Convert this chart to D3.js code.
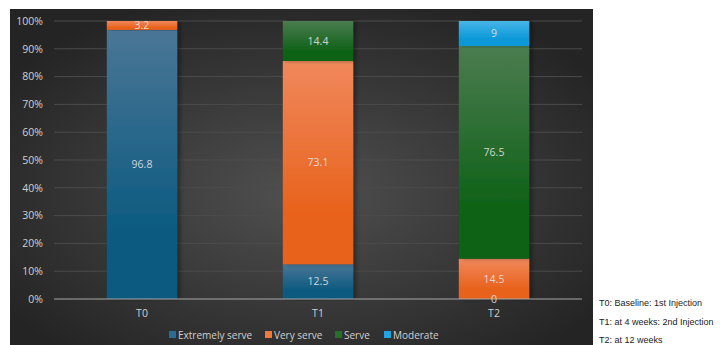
<!DOCTYPE html>
<html><head><meta charset="utf-8">
<script src="https://cdn.jsdelivr.net/npm/d3@7"></script>
<style>body{margin:0;background:#fff;}svg{display:block;}</style>
</head><body>
<svg id="c" width="722" height="345"></svg>
<script>
const categories = ["T0", "T1", "T2"];
const seriesNames = ["Extremely serve", "Very serve", "Serve", "Moderate"];
const extremelyServe = [96.8, 12.5, 0];
const veryServe = [3.2, 73.1, 14.5];
const serve = [0, 14.4, 76.5];
const moderate = [0, 0, 9];
const yTicks = [0, 10, 20, 30, 40, 50, 60, 70, 80, 90, 100];
const notes = ["T0: Baseline: 1st Injection", "T1: at 4 weeks: 2nd Injection", "T2: at 12 weeks"];
const zeroLabelShown = [["Extremely serve", "T2"]];

const seriesValues = [extremelyServe, veryServe, serve, moderate];
const colors = [
  {light:"#4a7696", dark:"#0c5a80", legend:"#2a6c94"},
  {light:"#f0885c", dark:"#e8621c", legend:"#f07a3c"},
  {light:"#4c7c50", dark:"#0f6218", legend:"#247028"},
  {light:"#48b4e8", dark:"#0898d8", legend:"#20a4e4"}
];

const svg = d3.select("#c");
const defs = svg.append("defs");
const bg = defs.append("radialGradient").attr("id","bg").attr("cx","0.5").attr("cy","0.55").attr("r","0.62");
bg.append("stop").attr("offset","0").attr("stop-color","#505050");
bg.append("stop").attr("offset","1").attr("stop-color","#242424");
colors.forEach((c,i)=>{
  const g = defs.append("linearGradient").attr("id","g"+i).attr("x1",0).attr("y1",0).attr("x2",0).attr("y2",1);
  g.append("stop").attr("offset","0").attr("stop-color",c.light);
  g.append("stop").attr("offset","0.75").attr("stop-color",c.dark);
  g.append("stop").attr("offset","1").attr("stop-color",c.dark);
});
const sh = defs.append("filter").attr("id","sh").attr("x","-20%").attr("y","-5%").attr("width","140%").attr("height","110%");
sh.append("feDropShadow").attr("dx",3).attr("dy",0).attr("stdDeviation",2).attr("flood-color","#000").attr("flood-opacity",0.35);

svg.append("rect").attr("x",10).attr("y",9).attr("width",583).attr("height",336).attr("fill","url(#bg)");

const x = d3.scaleBand().domain(categories).range([54, 582]).paddingInner(0.6).paddingOuter(0.3);
const y = d3.scaleLinear().domain([0, 100]).range([299, 21]);

const font = "'Open Sans', 'DejaVu Sans', sans-serif";

// gridlines
svg.append("g").selectAll("line").data(yTicks.filter(t=>t>0)).join("line")
  .attr("x1",54).attr("x2",582).attr("y1",d=>y(d)).attr("y2",d=>y(d))
  .attr("stroke","#4c4c4c").attr("stroke-width",1);

// y axis labels
const yAxis = svg.append("g").attr("transform","translate(54,0)")
  .call(d3.axisLeft(y).tickValues(yTicks).tickFormat(d=>d+"%").tickSize(0).tickPadding(11));
yAxis.select(".domain").remove();
yAxis.selectAll("text").attr("fill","#d0d0d0").style("font-family",font).style("font-size","10.5px");

// stacked data
const table = categories.map((c,i)=>{
  const o = {cat:c};
  seriesNames.forEach((s,j)=>o[s]=seriesValues[j][i]);
  return o;
});
const stacked = d3.stack().keys(seriesNames)(table);

const barG = svg.append("g");
stacked.forEach((layer,j)=>{
  barG.append("g").selectAll("rect").data(layer).join("rect")
    .attr("x",d=>x(d.data.cat)).attr("width",x.bandwidth())
    .attr("y",d=>y(d[1])).attr("height",d=>y(d[0])-y(d[1]))
    .attr("fill","url(#g"+j+")")
    .attr("filter","url(#sh)");
});

// axis line
svg.append("line").attr("x1",54).attr("x2",582).attr("y1",y(0)).attr("y2",y(0)).attr("stroke","#a8a8a8").attr("stroke-width",1);

// labels
const lblG = svg.append("g");
stacked.forEach((layer,j)=>{
  layer.forEach(d=>{
    const v = d[1]-d[0];
    const show = v>0 || zeroLabelShown.some(z=>z[0]===seriesNames[j] && z[1]===d.data.cat);
    if(!show) return;
    lblG.append("text").attr("x",x(d.data.cat)+x.bandwidth()/2)
      .attr("y",(y(d[0])+y(d[1]))/2).attr("dy","0.35em")
      .attr("text-anchor","middle").attr("fill","#e4e4e4").attr("fill-opacity",0.9)
      .style("font-family",font).style("font-size","10.5px").text(String(v===0?0:+v.toFixed(1)));
  });
});

// x axis labels
svg.append("g").selectAll("text").data(categories).join("text")
  .attr("x",d=>x(d)+x.bandwidth()/2).attr("y",317).attr("text-anchor","middle")
  .attr("fill","#d0d0d0").style("font-family",font).style("font-size","10.5px").text(d=>d);

// legend
const legendX = [169, 265, 335, 384];
const lg = svg.append("g");
seriesNames.forEach((s,j)=>{
  lg.append("rect").attr("x",legendX[j]).attr("y",331).attr("width",7).attr("height",7).attr("fill",colors[j].legend);
  lg.append("text").attr("x",legendX[j]+9).attr("y",338.5).attr("fill","#d0d0d0")
    .style("font-family",font).style("font-size","10px").text(s);
});

// notes
svg.append("g").selectAll("text").data(notes).join("text")
  .attr("x",599).attr("y",(d,i)=>306+i*18.5).attr("fill","#222")
  .style("font-family","'Liberation Sans', sans-serif").style("font-size","9px").text(d=>d);
</script>
</body></html>
